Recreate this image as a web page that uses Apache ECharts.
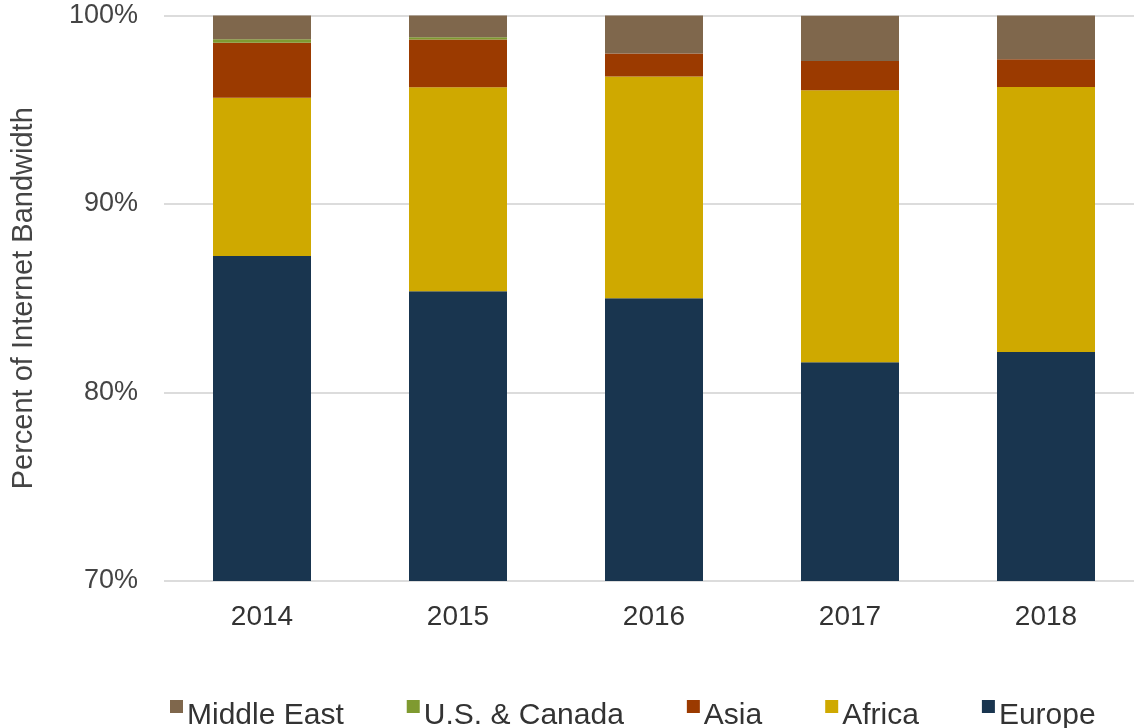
<!DOCTYPE html>
<html>
<head>
<meta charset="utf-8">
<script src="https://cdn.jsdelivr.net/npm/echarts@6/dist/echarts.min.js"></script>
<style>
  html, body { margin: 0; padding: 0; background: #fff; }
  #chart { width: 1134px; height: 728px; }
</style>
</head>
<body>
<div id="chart"></div>
<script>
// categories and shares (percent of internet bandwidth)
var years = ['2014', '2015', '2016', '2017', '2018'];
var europe = [87.24, 85.37, 85.0, 81.6, 82.15];
var africa = [8.4, 10.83, 11.77, 14.43, 14.06];
var asia = [2.92, 2.53, 1.22, 1.55, 1.47];
var usCanada = [0.18, 0.11, 0.0, 0.0, 0.0];
var middleEast = [1.26, 1.16, 2.01, 2.41, 2.32];
var yTicks = [70, 80, 90, 100];

var legendOrder = ['Middle East', 'U.S. & Canada', 'Asia', 'Africa', 'Europe'];
var font = '"Liberation Sans", Arial, sans-serif';

// square at the top, tiny dot further down so the swatch sits above the text middle
var raisedSquare = 'path://M0,0H10V10H0Z M0,23.99H0.01V24H0Z';

function bar(name, data, color) {
  return {
    name: name,
    type: 'bar',
    stack: 'total',
    barWidth: '50%',
    itemStyle: { color: color },
    data: data
  };
}

var chart = echarts.init(document.getElementById('chart'));
chart.setOption({
  animation: false,
  textStyle: { fontFamily: font },
  // plot runs past the right edge of the canvas, as in the source
  grid: { left: 164, width: 980, top: 15.5, bottom: 147, outerBoundsMode: 'none' },
  legend: {
    data: legendOrder,
    left: 165,
    top: 695,
    itemWidth: 13,
    itemHeight: 31.2,
    itemGap: 63,
    icon: raisedSquare,
    textStyle: { fontSize: 30, color: '#333', padding: [0, 0, 0, -1] }
  },
  xAxis: {
    type: 'category',
    data: years,
    axisLine: { show: false },
    axisTick: { show: false },
    axisLabel: { fontSize: 28, color: '#333', margin: 22 }
  },
  yAxis: {
    type: 'value',
    min: yTicks[0],
    max: yTicks[yTicks.length - 1],
    interval: 10,
    name: 'Percent of Internet Bandwidth',
    nameLocation: 'middle',
    nameGap: 126,
    nameTextStyle: { fontSize: 29, color: '#444' },
    axisLine: { show: false },
    axisTick: { show: false },
    axisLabel: { fontSize: 27, color: '#444', margin: 26, formatter: '{value}%' },
    splitLine: { lineStyle: { color: '#d0d0d0', width: 1.5 } }
  },
  series: [
    bar('Europe', europe, '#19354f'),
    bar('Africa', africa, '#cfa900'),
    bar('Asia', asia, '#9b3a00'),
    bar('U.S. & Canada', usCanada, '#7f9a30'),
    bar('Middle East', middleEast, '#7f674c')
  ]
});
</script>
</body>
</html>
